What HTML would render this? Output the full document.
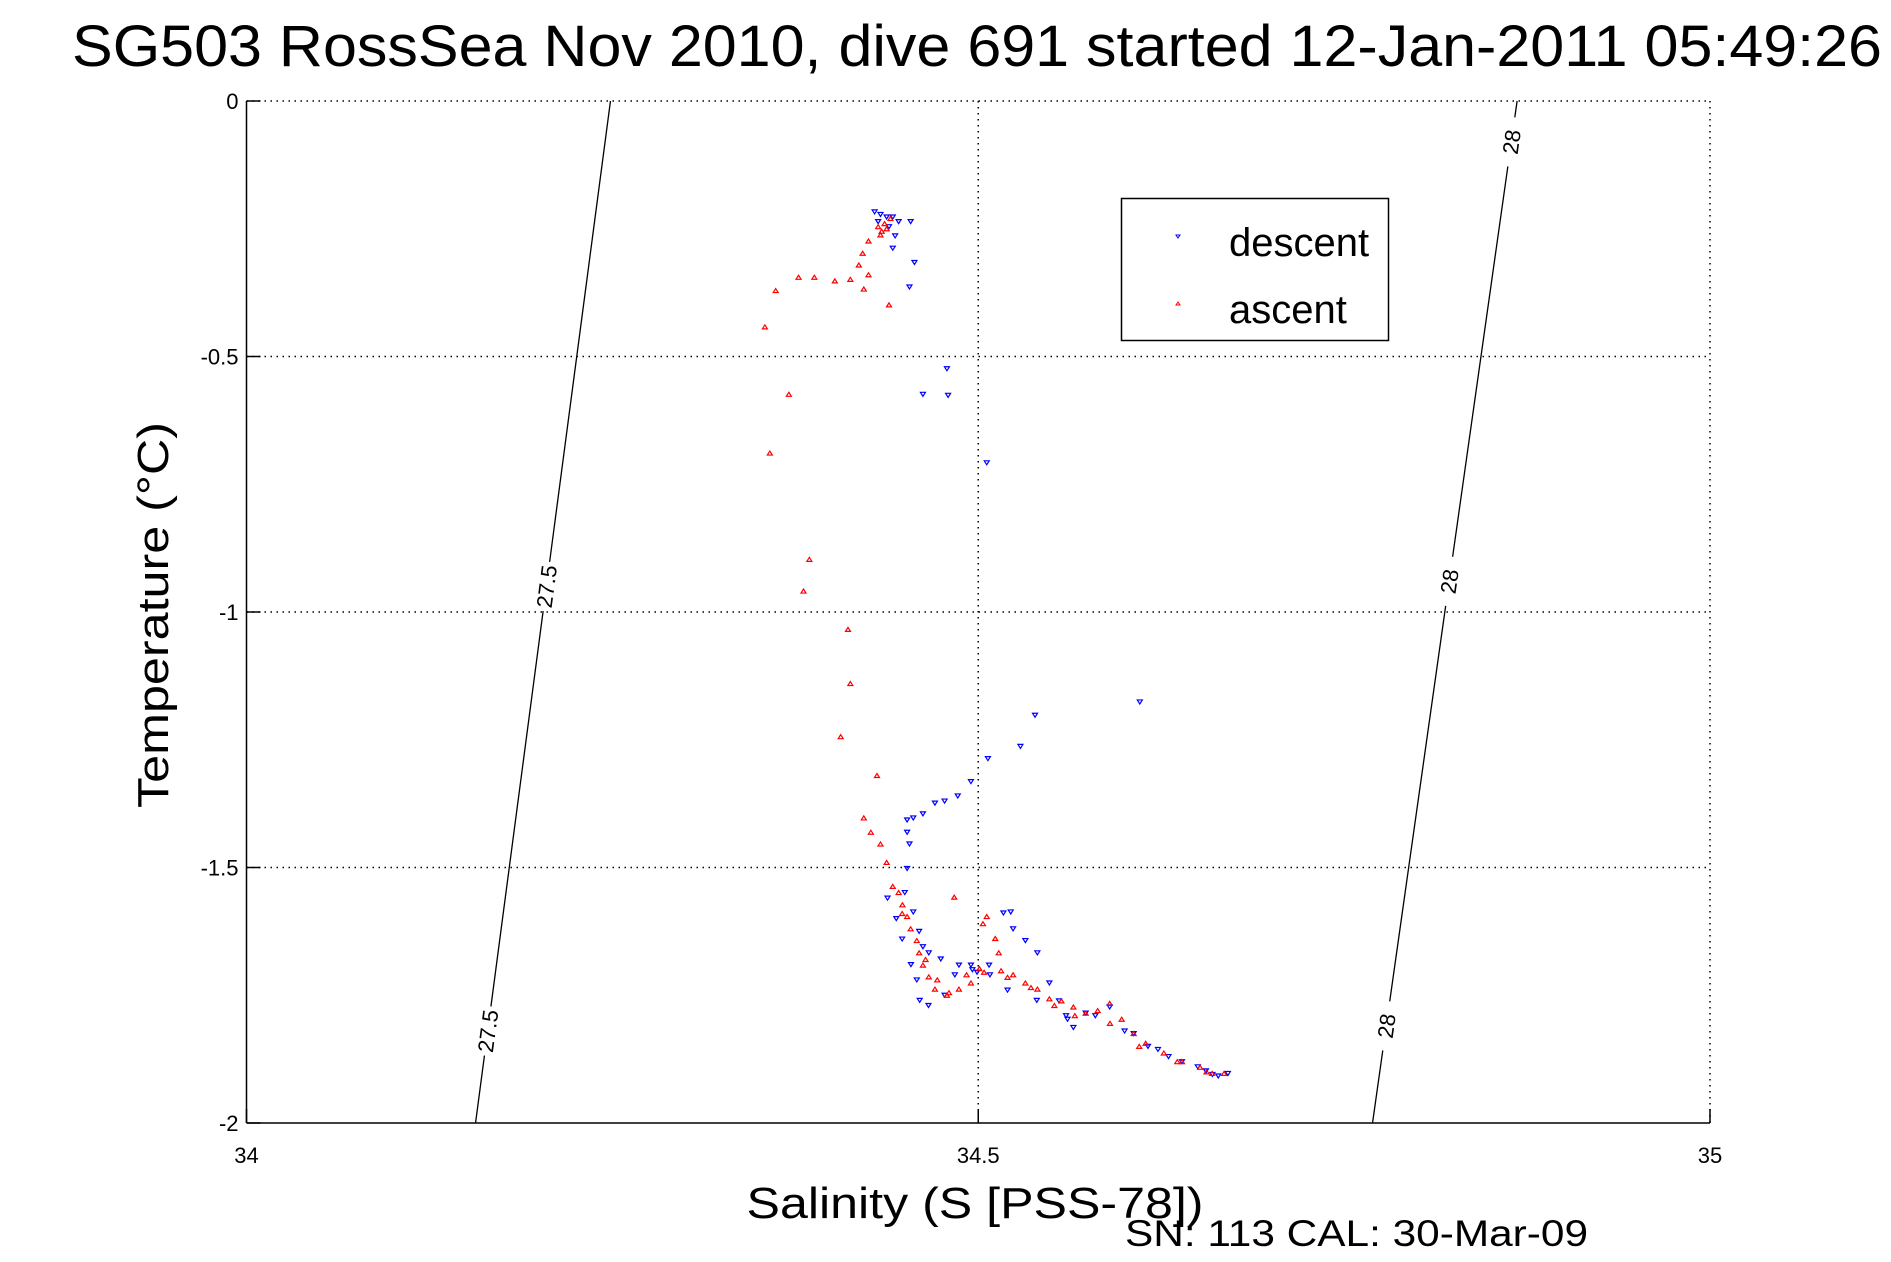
<!DOCTYPE html>
<html><head><meta charset="utf-8"><style>
html,body{margin:0;padding:0;background:#fff;}
svg{display:block;font-family:"Liberation Sans",sans-serif;}
</style></head><body>
<svg id="chart" width="1891" height="1262" viewBox="0 0 1891 1262">
<text x="977" y="66" font-size="58" text-anchor="middle" textLength="1810" lengthAdjust="spacingAndGlyphs">SG503 RossSea Nov 2010, dive 691 started 12-Jan-2011 05:49:26</text>
<g id="grid"></g>
<g id="contours"></g>
<g id="axes"></g>
<g id="descent"></g>
<g id="ascent"></g>
<g>
<rect x="1121.5" y="198.5" width="267" height="142" fill="#fff" stroke="#000" stroke-width="1.5"/>
<path d="M1176,235 l4,0 l-2,3 z" fill="none" stroke="#00f" stroke-width="1"/>
<text x="1229" y="256" font-size="40">descent</text>
<path d="M1176,305 l4,0 l-2,-3 z" fill="none" stroke="#f00" stroke-width="1"/>
<text x="1229" y="323" font-size="40">ascent</text>
</g>
<text transform="translate(168,615) rotate(-90)" font-size="44" text-anchor="middle" textLength="386" lengthAdjust="spacingAndGlyphs">Temperature (°C)</text>
<text x="975" y="1218" font-size="44" text-anchor="middle" textLength="457" lengthAdjust="spacingAndGlyphs">Salinity (S [PSS-78])</text>
<text x="1125" y="1246" font-size="37" textLength="463" lengthAdjust="spacingAndGlyphs">SN: 113  CAL: 30-Mar-09</text>
</svg>
<script>
const xTicks=[34,34.5,35];
const xTickLabels=["34","34.5","35"];
const yTicks=[0,-0.5,-1,-1.5,-2];
const yTickLabels=["0","-0.5","-1","-1.5","-2"];
const contourLevels=["27.5","28"];
const contourTop=[34.2487,34.8682];
const contourBottom=[34.1565,34.7694];
const descentS=[34.4292,34.4332,34.4374,34.4416,34.4456,34.4316,34.4390,34.4538,34.4432,34.4416,34.4564,34.4530,34.4786,34.4622,34.4794,34.5058,34.6104,34.5388,34.5288,34.5066,34.4950,34.4860,34.4770,34.4704,34.4622,34.4556,34.4514,34.4514,34.4530,34.4514,34.4498,34.4556,34.4596,34.4622,34.4662,34.4744,34.4770,34.4868,34.4950,34.4992,34.5074,34.5172,34.5222,34.5238,34.5322,34.5404,34.5486,34.5552,34.5610,34.5650,34.5734,34.5898,34.6062,34.6228,34.6392,34.6556,34.6640,34.6706,34.4380,34.4440,34.4480,34.4540,34.4580,34.4600,34.4660,34.4840,34.4960,34.5080,34.5200,34.5400,34.5600,34.5800,34.6000,34.6160,34.6300,34.6500,34.6600];
const descentT=[-0.217,-0.222,-0.227,-0.227,-0.236,-0.236,-0.246,-0.236,-0.264,-0.288,-0.316,-0.364,-0.524,-0.574,-0.576,-0.708,-1.176,-1.202,-1.263,-1.287,-1.332,-1.360,-1.370,-1.374,-1.395,-1.403,-1.407,-1.431,-1.454,-1.502,-1.549,-1.587,-1.625,-1.655,-1.667,-1.679,-1.750,-1.691,-1.691,-1.705,-1.691,-1.589,-1.587,-1.620,-1.643,-1.667,-1.726,-1.761,-1.797,-1.813,-1.785,-1.773,-1.825,-1.856,-1.880,-1.898,-1.908,-1.903,-1.560,-1.600,-1.640,-1.690,-1.720,-1.760,-1.770,-1.710,-1.700,-1.710,-1.740,-1.760,-1.790,-1.790,-1.820,-1.850,-1.870,-1.890,-1.905];
const ascentS=[34.4374,34.4332,34.4316,34.4250,34.4210,34.4184,34.4250,34.4126,34.4020,34.3880,34.3772,34.3616,34.4218,34.4390,34.3542,34.3706,34.3576,34.3846,34.3806,34.4110,34.4126,34.4060,34.4308,34.4218,34.4266,34.4332,34.4374,34.4416,34.4456,34.4482,34.4514,34.4538,34.4580,34.4596,34.4622,34.4662,34.4704,34.4786,34.4868,34.4950,34.5008,34.5156,34.5238,34.5322,34.5404,34.5486,34.5568,34.5650,34.5734,34.5816,34.5898,34.5980,34.6062,34.6144,34.6268,34.6392,34.6516,34.6598,34.6680,34.4836,34.5032,34.5116,34.5058,34.5140,34.4360,34.4400,34.4340,34.4480,34.4640,34.4720,34.4800,34.4920,34.5040,34.5200,34.5360,34.5520,34.5660,34.5900,34.6100,34.6360,34.6560];
const ascentT=[-0.250,-0.262,-0.246,-0.274,-0.298,-0.321,-0.340,-0.349,-0.352,-0.345,-0.345,-0.371,-0.368,-0.399,-0.442,-0.574,-0.689,-0.897,-0.959,-1.034,-1.140,-1.244,-1.320,-1.403,-1.431,-1.454,-1.490,-1.537,-1.549,-1.573,-1.596,-1.620,-1.643,-1.667,-1.691,-1.714,-1.738,-1.750,-1.738,-1.726,-1.698,-1.702,-1.710,-1.726,-1.738,-1.757,-1.761,-1.773,-1.785,-1.780,-1.766,-1.797,-1.825,-1.844,-1.863,-1.880,-1.891,-1.903,-1.903,-1.558,-1.610,-1.639,-1.596,-1.667,-0.240,-0.230,-0.255,-1.590,-1.680,-1.720,-1.745,-1.710,-1.705,-1.715,-1.735,-1.770,-1.790,-1.805,-1.850,-1.880,-1.900];

const X0=246.5,X1=1710,Y0=101,Y1=1123;
const sx=s=>X0+(s-34)*(X1-X0);
const sy=t=>Y0+(-t)*(Y1-Y0)/2;
const NS="http://www.w3.org/2000/svg";
function mk(tag,attrs,parent){const e=document.createElementNS(NS,tag);for(const k in attrs)e.setAttribute(k,attrs[k]);parent.appendChild(e);return e;}
const grid=document.getElementById('grid'),axes=document.getElementById('axes'),cont=document.getElementById('contours');
xTicks.forEach((v,i)=>{if(i===0)return;const l=mk('line',{x1:sx(v),x2:sx(v),y1:Y0,y2:Y1,stroke:'#000','stroke-width':1.5,'stroke-dasharray':'1.5 4.5'},grid);

});
yTicks.forEach((v,i)=>{if(i===yTicks.length-1)return;const l=mk('line',{x1:X0,x2:X1,y1:sy(v),y2:sy(v),stroke:'#000','stroke-width':1.5,'stroke-dasharray':'1.5 4.5'},grid);

});
let a=mk('line',{x1:X0,x2:X0,y1:Y0,y2:Y1,stroke:'#000','stroke-width':1.5},axes);


a=mk('line',{x1:X0,x2:X1,y1:Y1,y2:Y1,stroke:'#000','stroke-width':1.5},axes);


xTicks.forEach((v,i)=>{const t=mk('line',{x1:sx(v),x2:sx(v),y1:Y1,y2:Y1-14,stroke:'#000','stroke-width':1.5},axes);


const tx=mk('text',{x:sx(v),y:Y1+40,'font-size':22,'text-anchor':'middle'},axes);tx.textContent=xTickLabels[i];

});
yTicks.forEach((v,i)=>{const t=mk('line',{x1:X0,x2:X0+14,y1:sy(v),y2:sy(v),stroke:'#000','stroke-width':1.5},axes);


const tx=mk('text',{x:X0-8,y:sy(v)+8,'font-size':22,'text-anchor':'end'},axes);tx.textContent=yTickLabels[i];

});
const labelFracs=[[0.475,0.91],[0.04,0.47,0.905]];
contourLevels.forEach((lv,i)=>{
 const xa=sx(contourTop[i]),xb=sx(contourBottom[i]);
 const pt=f=>[xa+(xb-xa)*f,Y0+(Y1-Y0)*f];
 const fr=labelFracs[i];const gap=0.024;
 let segs=[];let start=0;fr.forEach(f=>{segs.push([start,f-gap]);start=f+gap;});segs.push([start,1]);
 segs.forEach(s=>{if(s[1]<=s[0])return;const p=pt(Math.max(0,s[0])),q=pt(s[1]);
  const l=mk('line',{x1:p[0],y1:p[1],x2:q[0],y2:q[1],stroke:'#000','stroke-width':1.3},cont);
  
  });
 const ang=Math.atan2(Y1-Y0,xb-xa)*180/Math.PI;
 fr.forEach(f=>{const p=pt(f);const t=mk('text',{x:0,y:0,'font-size':22,'text-anchor':'middle','transform':`translate(${p[0]},${p[1]}) rotate(${ang+180}) translate(0,8)`},cont);t.textContent=lv;
  
  });
});
const dG=document.getElementById('descent'),aG=document.getElementById('ascent');
descentS.forEach((s,i)=>{const x=sx(s),y=sy(descentT[i]);
 const m=mk('path',{d:`M${x-2.5},${y-2} l5,0 l-2.5,4 z`,fill:'none',stroke:'#00f','stroke-width':1.2},dG);
 
 });
ascentS.forEach((s,i)=>{const x=sx(s),y=sy(ascentT[i]);
 const m=mk('path',{d:`M${x-2.5},${y+2} l5,0 l-2.5,-4 z`,fill:'none',stroke:'#f00','stroke-width':1.2},aG);
 
 });
</script>
</body></html>
